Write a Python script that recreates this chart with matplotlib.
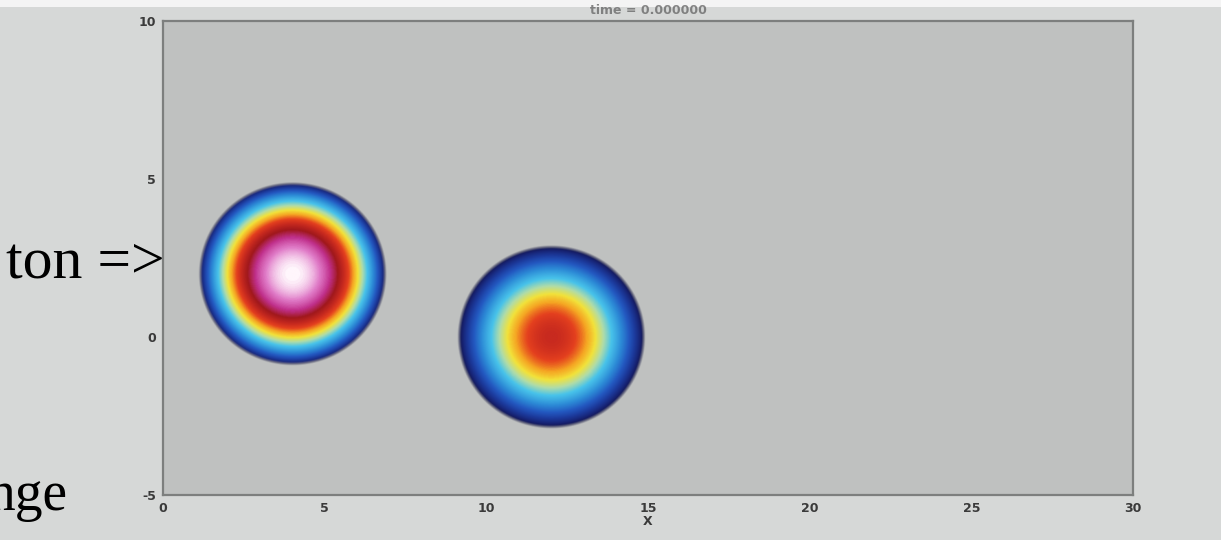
import numpy as np
import matplotlib
matplotlib.use("Agg")
import matplotlib.pyplot as plt
from matplotlib.colors import LinearSegmentedColormap
from matplotlib.patches import Rectangle

# two pulses at t = 0
pulse_x = [4.0, 12.0]
pulse_y = [2.0, 0.0]
pulse_radius = [2.85, 2.85]
pulse_peak = [1.0, 0.80]
pulse_shape = [0.6, 0.75]

x_ticks = [0, 5, 10, 15, 20, 25, 30]
y_ticks = [-5, 0, 5, 10]
title_text = "time = 0.000000"

# fine grid for the field
xs = np.linspace(0, 30, 1500)
ys = np.linspace(-5, 10, 750)
X, Y = np.meshgrid(xs, ys)

field = np.zeros(X.shape)
alpha = np.zeros(X.shape)
edge_width = 0.12
for cx, cy, R, A, p in zip(pulse_x, pulse_y, pulse_radius, pulse_peak, pulse_shape):
    r = np.hypot(X - cx, Y - cy)
    q = np.clip(1 - (r / R) ** 2, 0, None)
    field = np.maximum(field, A * q ** p)
    # soft rim so the pulse fades into the background
    alpha = np.maximum(alpha, np.clip(0.5 + (R - r) / edge_width, 0, 1))

# jet-like map running on into magenta and white at the top
stops = [
    (0.00, "#0e1040"),
    (0.10, "#16206e"),
    (0.22, "#1c3a9c"),
    (0.32, "#2358c0"),
    (0.42, "#2c8ad6"),
    (0.53, "#48c3ea"),
    (0.60, "#b0dca8"),
    (0.66, "#f2e23a"),
    (0.71, "#f5a623"),
    (0.76, "#e4401e"),
    (0.80, "#c82a1f"),
    (0.85, "#a0181c"),
    (0.90, "#c0308c"),
    (0.95, "#e07cc8"),
    (1.00, "#fff6fc"),
]
cmap = LinearSegmentedColormap.from_list("pulse", stops)

fig = plt.figure(figsize=(12.21, 5.40), dpi=100)
fig.patch.set_facecolor("#d6d8d7")
fig.patches.append(Rectangle((0, 1 - 7 / 540), 1, 7 / 540, transform=fig.transFigure,
                             facecolor="#f4f4f4", edgecolor="none"))

ax = fig.add_axes([0.1335, 0.0833, 0.7945, 0.8777])
ax.set_facecolor("#bfc1c0")
ax.imshow(field, cmap=cmap, vmin=0, vmax=1, origin="lower", alpha=alpha,
          extent=[0, 30, -5, 10], aspect="auto", interpolation="antialiased")
ax.set_xlim(0, 30)
ax.set_ylim(-5, 10)

for s in ax.spines.values():
    s.set_color("#7d7f7e")
    s.set_linewidth(1.6)

tick_font = dict(family=["Liberation Sans Narrow", "DejaVu Sans"], weight="bold")
ax.set_xticks(x_ticks)
ax.set_yticks(y_ticks)
ax.set_xticklabels([str(v) for v in x_ticks], fontsize=9, color="#3a3a3a", **tick_font)
ax.set_yticklabels([str(v) for v in y_ticks], fontsize=9, color="#3a3a3a", **tick_font)
ax.tick_params(length=0, pad=5)
ax.set_xlabel("X", fontsize=9, color="#3a3a3a", labelpad=0, **tick_font)

fig.text(0.531, 1 - 11 / 540, title_text, ha="center", va="center",
         fontsize=9, color="#6a6a6a", alpha=0.8, **tick_font)

# slide text around the plot
fig.text(165 / 1221, 1 - 277 / 540, "ton =>", ha="right", va="baseline",
         fontsize=43, family="Liberation Serif", color="black")
fig.text(68 / 1221, 1 - 510 / 540, "nge", ha="right", va="baseline",
         fontsize=40, family="Liberation Serif", color="black")

fig.savefig("out.png", dpi=100, facecolor=fig.get_facecolor())
